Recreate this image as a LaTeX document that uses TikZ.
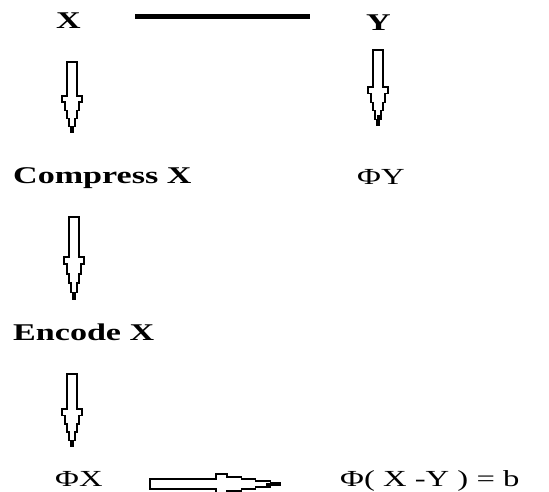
\documentclass[tikz,border=0pt]{standalone}
\usepackage{graphicx}
\usepackage{fontspec}
\setmainfont{Liberation Serif}
\newcommand\widetxt[1]{\scalebox{1.42}[1]{#1}}
\tikzset{
  lbl/.style={anchor=base west, inner sep=0pt, font=\bfseries\fontsize{24}{28}\selectfont},
  rlbl/.style={anchor=base west, inner sep=0pt, font=\fontsize{23}{28}\selectfont},
  arrowline/.style={line width=1.4pt, line join=miter, fill=white},
  pics/downarr/.style 2 args={code={
    \draw[arrowline] (-5,0) -- (5,0) -- (5,#1) -- (10,#1) -- (10,#1+0.17*#2) -- (7,#1+0.17*#2)
      -- (7,#1+0.4*#2) -- (5,#1+0.4*#2) -- (5,#1+0.62*#2) -- (3,#1+0.62*#2) -- (3,#1+0.85*#2)
      -- (1,#1+0.85*#2) -- (1,#1+#2) -- (-1,#1+#2) -- (-1,#1+0.85*#2) -- (-3,#1+0.85*#2)
      -- (-3,#1+0.62*#2) -- (-5,#1+0.62*#2) -- (-5,#1+0.4*#2) -- (-7,#1+0.4*#2) -- (-7,#1+0.17*#2)
      -- (-10,#1+0.17*#2) -- (-10,#1) -- (-5,#1) -- cycle;
    \coordinate (-tip) at (0,#1+#2);
  }},
}
\begin{document}
\begin{tikzpicture}[x=1pt,y=-1pt]
\fill[white] (0,0) rectangle (549,491);
\useasboundingbox (0,0) rectangle (549,491);

% labels
\node[lbl] (X) at (56,28) {\widetxt{X}};
\node[lbl] (Y) at (366,30) {\widetxt{Y}};
\node[lbl] (CX) at (13,183) {\widetxt{Compress X}};
\node[rlbl] (PY) at (357,184) {\widetxt{ΦY}};
\node[lbl] (EX) at (13,340) {\widetxt{Encode X}};
\node[rlbl] (PX) at (55,486) {\widetxt{ΦX}};
\node[rlbl] (PXY) at (340,486) {\widetxt{Φ( X -Y ) = b}};

% top line
\coordinate (la) at (135,16.5);
\coordinate (lb) at (310,16.5);
\draw[line width=5pt] (la) -- (lb);

% down arrows
\pic (a1) at (72,62) {downarr={34}{36}};
\pic (a2) at (74,217) {downarr={40}{42}};
\pic (a3) at (72,374) {downarr={35}{37}};
\pic (ay) at (378,50) {downarr={37}{38}};
\fill (376.5,115) rectangle (379.5,125);

% horizontal arrow
\pic[rotate=90] (ah) at (150,484) {downarr={66}{64}};
\draw[line width=3pt] (266,484) -- (ah-tip);
\end{tikzpicture}
\end{document}
